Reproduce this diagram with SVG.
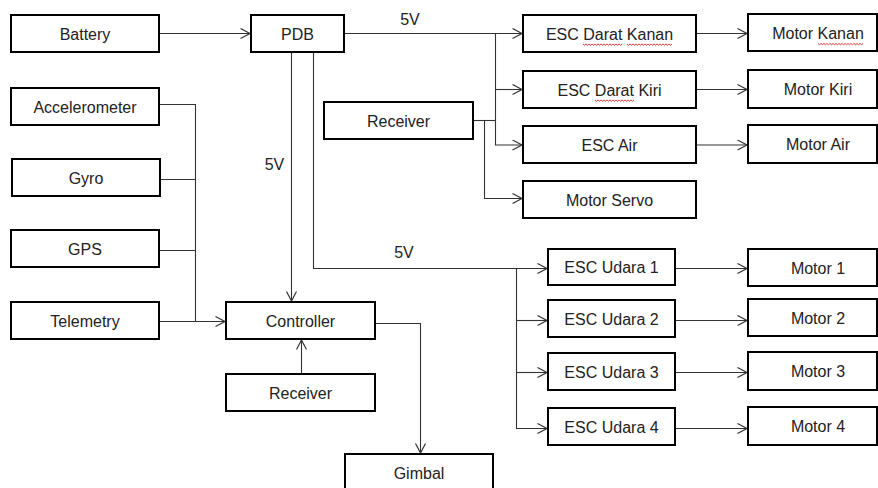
<svg xmlns="http://www.w3.org/2000/svg" width="878" height="488" viewBox="0 0 878 488">
<style>
.box{fill:#fff;stroke:#000;stroke-width:2}
.lbl{font-family:"Liberation Sans",Arial,sans-serif;font-size:16px;fill:#222;text-anchor:middle}
.c{fill:none;stroke:#333;stroke-width:1.1}
.sq{fill:none;stroke:#e02020;stroke-width:0.9}
</style>
<defs>
<marker id="ah" markerUnits="userSpaceOnUse" markerWidth="12" markerHeight="12" refX="10" refY="5.5" orient="auto">
<path d="M0.5,0.5 L10,5.5 L0.5,10.5" fill="none" stroke="#333" stroke-width="1.2"/>
</marker>
</defs>
<rect width="878" height="488" fill="#fff"/>
<g id="connectors">
<path class="c" d="M159 33.5 H250" marker-end="url(#ah)"/>
<path class="c" d="M344 33.5 H522" marker-end="url(#ah)"/>
<path class="c" d="M495.5 33.5 V145 H522" marker-end="url(#ah)"/>
<path class="c" d="M495.5 89.5 H522" marker-end="url(#ah)"/>
<path class="c" d="M473 120.5 H495.5"/>
<path class="c" d="M484.5 120.5 V198.5 H522" marker-end="url(#ah)"/>
<path class="c" d="M696 33.5 H747" marker-end="url(#ah)"/>
<path class="c" d="M696 89.5 H747" marker-end="url(#ah)"/>
<path class="c" d="M696 145 H747" marker-end="url(#ah)"/>
<path class="c" d="M291.5 52 V301" marker-end="url(#ah)"/>
<path class="c" d="M313.5 52 V268.5 H547" marker-end="url(#ah)"/>
<path class="c" d="M516.5 268.5 V428.5 H547" marker-end="url(#ah)"/>
<path class="c" d="M516.5 320.5 H547" marker-end="url(#ah)"/>
<path class="c" d="M516.5 372.5 H547" marker-end="url(#ah)"/>
<path class="c" d="M675 268.5 H747" marker-end="url(#ah)"/>
<path class="c" d="M675 320.5 H747" marker-end="url(#ah)"/>
<path class="c" d="M675 372.5 H747" marker-end="url(#ah)"/>
<path class="c" d="M675 428.5 H747" marker-end="url(#ah)"/>
<path class="c" d="M159 104.5 H195.5 V321.5"/>
<path class="c" d="M160 179.5 H195.5"/>
<path class="c" d="M159 250.5 H195.5"/>
<path class="c" d="M159 321.5 H225" marker-end="url(#ah)"/>
<path class="c" d="M301.5 374 V340" marker-end="url(#ah)"/>
<path class="c" d="M375 323.5 H420.5 V453" marker-end="url(#ah)"/>
<text class="lbl" x="410" y="25">5V</text>
<text class="lbl" x="274.5" y="169.5">5V</text>
<text class="lbl" x="404" y="257.5">5V</text>
</g>
<g id="battery"><rect class="box" x="11" y="15" width="148" height="37"/><text class="lbl" x="85" y="39.5">Battery</text></g>
<g id="pdb"><rect class="box" x="251" y="15" width="93" height="37"/><text class="lbl" x="297.5" y="39.5">PDB</text></g>
<g id="accelerometer"><rect class="box" x="11" y="88" width="148" height="37"/><text class="lbl" x="85" y="112.5">Accelerometer</text></g>
<g id="gyro"><rect class="box" x="12" y="159" width="148" height="37"/><text class="lbl" x="86" y="183.5">Gyro</text></g>
<g id="gps"><rect class="box" x="11" y="230" width="148" height="37"/><text class="lbl" x="85" y="254.5">GPS</text></g>
<g id="telemetry"><rect class="box" x="11" y="302" width="148" height="37"/><text class="lbl" x="85" y="326.5">Telemetry</text></g>
<g id="controller"><rect class="box" x="226" y="302" width="149" height="37"/><text class="lbl" x="300.5" y="326.5">Controller</text></g>
<g id="receiver-ctrl"><rect class="box" x="226" y="374" width="149" height="37"/><text class="lbl" x="300.5" y="398.5">Receiver</text></g>
<g id="gimbal"><rect class="box" x="345" y="454" width="148" height="40"/><text class="lbl" x="419" y="479">Gimbal</text></g>
<g id="receiver-ground"><rect class="box" x="324" y="102" width="149" height="37"/><text class="lbl" x="398.5" y="126.5">Receiver</text></g>
<g id="esc-darat-kanan"><rect class="box" x="523" y="15" width="173" height="37"/><text class="lbl" x="609.5" y="39.5">ESC Darat Kanan</text>
<path class="sq" d="M583 44 l1.5 1.2 l1.5 -1.2 l1.5 1.2 l1.5 -1.2 l1.5 1.2 l1.5 -1.2 l1.5 1.2 l1.5 -1.2 l1.5 1.2 l1.5 -1.2 l1.5 1.2 l1.5 -1.2 l1.5 1.2 l1.5 -1.2 l1.5 1.2 l1.5 -1.2 l1.5 1.2 l1.5 -1.2 l1.5 1.2 l1.5 -1.2 l1.5 1.2 l1.5 -1.2 l1.5 1.2 l1.5 -1.2 l1.5 1.2 l1.5 -1.2"/>
<path class="sq" d="M627 44 l1.5 1.2 l1.5 -1.2 l1.5 1.2 l1.5 -1.2 l1.5 1.2 l1.5 -1.2 l1.5 1.2 l1.5 -1.2 l1.5 1.2 l1.5 -1.2 l1.5 1.2 l1.5 -1.2 l1.5 1.2 l1.5 -1.2 l1.5 1.2 l1.5 -1.2 l1.5 1.2 l1.5 -1.2 l1.5 1.2 l1.5 -1.2 l1.5 1.2 l1.5 -1.2 l1.5 1.2 l1.5 -1.2 l1.5 1.2 l1.5 -1.2 l1.5 1.2 l1.5 -1.2 l1.5 1.2 l1.5 -1.2"/>
</g>
<g id="esc-darat-kiri"><rect class="box" x="523" y="71" width="173" height="37"/><text class="lbl" x="609.5" y="95.5">ESC Darat Kiri</text>
<path class="sq" d="M595 100 l1.5 1.2 l1.5 -1.2 l1.5 1.2 l1.5 -1.2 l1.5 1.2 l1.5 -1.2 l1.5 1.2 l1.5 -1.2 l1.5 1.2 l1.5 -1.2 l1.5 1.2 l1.5 -1.2 l1.5 1.2 l1.5 -1.2 l1.5 1.2 l1.5 -1.2 l1.5 1.2 l1.5 -1.2 l1.5 1.2 l1.5 -1.2 l1.5 1.2 l1.5 -1.2 l1.5 1.2 l1.5 -1.2 l1.5 1.2 l1.5 -1.2"/>
</g>
<g id="esc-air"><rect class="box" x="523" y="126" width="173" height="37"/><text class="lbl" x="609.5" y="150.5">ESC Air</text></g>
<g id="motor-servo"><rect class="box" x="523" y="181" width="173" height="37"/><text class="lbl" x="609.5" y="205.5">Motor Servo</text></g>
<g id="motor-kanan"><rect class="box" x="748" y="14" width="129" height="37"/><text class="lbl" x="818" y="38.5">Motor Kanan</text>
<path class="sq" d="M818 43.5 l1.5 1.2 l1.5 -1.2 l1.5 1.2 l1.5 -1.2 l1.5 1.2 l1.5 -1.2 l1.5 1.2 l1.5 -1.2 l1.5 1.2 l1.5 -1.2 l1.5 1.2 l1.5 -1.2 l1.5 1.2 l1.5 -1.2 l1.5 1.2 l1.5 -1.2 l1.5 1.2 l1.5 -1.2 l1.5 1.2 l1.5 -1.2 l1.5 1.2 l1.5 -1.2 l1.5 1.2 l1.5 -1.2 l1.5 1.2 l1.5 -1.2 l1.5 1.2 l1.5 -1.2 l1.5 1.2 l1.5 -1.2"/>
</g>
<g id="motor-kiri"><rect class="box" x="748" y="70" width="129" height="38"/><text class="lbl" x="818" y="95">Motor Kiri</text></g>
<g id="motor-air"><rect class="box" x="748" y="125" width="129" height="38"/><text class="lbl" x="818" y="150">Motor Air</text></g>
<g id="esc-udara-1"><rect class="box" x="548" y="249" width="127" height="36"/><text class="lbl" x="611.5" y="273">ESC Udara 1</text></g>
<g id="esc-udara-2"><rect class="box" x="548" y="300" width="127" height="37"/><text class="lbl" x="611.5" y="324.5">ESC Udara 2</text></g>
<g id="esc-udara-3"><rect class="box" x="548" y="353" width="127" height="37"/><text class="lbl" x="611.5" y="377.5">ESC Udara 3</text></g>
<g id="esc-udara-4"><rect class="box" x="548" y="408" width="127" height="37"/><text class="lbl" x="611.5" y="432.5">ESC Udara 4</text></g>
<g id="motor-1"><rect class="box" x="748" y="249" width="129" height="37"/><text class="lbl" x="818" y="273.5">Motor 1</text></g>
<g id="motor-2"><rect class="box" x="748" y="299" width="129" height="37"/><text class="lbl" x="818" y="323.5">Motor 2</text></g>
<g id="motor-3"><rect class="box" x="748" y="352" width="129" height="38"/><text class="lbl" x="818" y="377">Motor 3</text></g>
<g id="motor-4"><rect class="box" x="748" y="407" width="129" height="38"/><text class="lbl" x="818" y="432">Motor 4</text></g>
</svg>
